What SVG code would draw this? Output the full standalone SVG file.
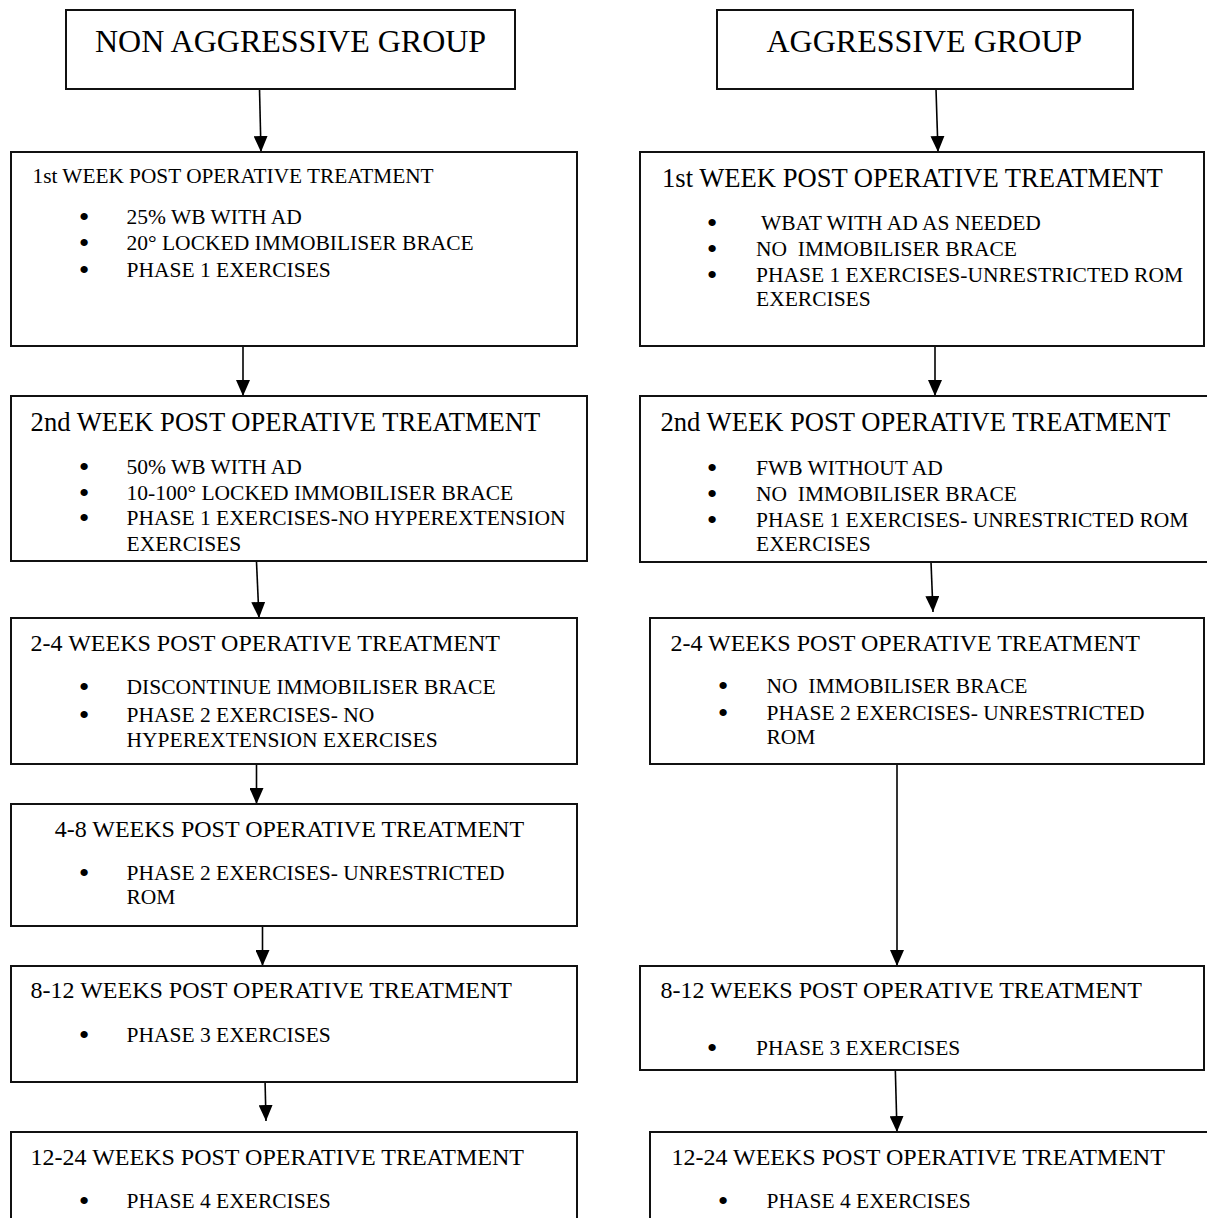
<svg xmlns="http://www.w3.org/2000/svg" width="1207" height="1218" viewBox="0 0 1207 1218">
<style>
  .box{fill:#fff;stroke:#111;stroke-width:2}
  text{font-family:"Liberation Serif","Times New Roman",serif;fill:#000;white-space:pre}
  .h{font-size:32px}
  .t21{font-size:21.3px}
  .t24{font-size:24px}
  .t27{font-size:26.6px}
  .b{font-size:21.5px}
  .dot{font-size:22px;text-anchor:middle;stroke:#000;stroke-width:2;stroke-linejoin:round}
  .conn line{stroke:#000;stroke-width:1.6;fill:none;marker-end:url(#ah)}
</style>
<defs>
  <marker id="ah" markerUnits="userSpaceOnUse" markerWidth="16" markerHeight="14" refX="16" refY="7" orient="auto">
    <path d="M0,0 L16,7 L0,14 z" fill="#000"/>
  </marker>
</defs>
<rect width="1207" height="1218" fill="#fff"/>

<g id="connectors" class="conn">
  <line x1="259.5" y1="89" x2="261" y2="152"/>
  <line x1="243" y1="346" x2="243" y2="396"/>
  <line x1="256.5" y1="562" x2="259" y2="618"/>
  <line x1="256.5" y1="764" x2="256.5" y2="804"/>
  <line x1="262.5" y1="926" x2="262.5" y2="966"/>
  <line x1="264.5" y1="1058" x2="266" y2="1121"/>
  <line x1="936" y1="89" x2="938" y2="152"/>
  <line x1="935" y1="346" x2="935" y2="396"/>
  <line x1="931" y1="562" x2="933" y2="612"/>
  <line x1="897" y1="764" x2="897" y2="966"/>
  <line x1="895" y1="1058" x2="897" y2="1132"/>
</g>

<g id="nonagg-header">
  <rect class="box" x="66" y="10" width="449" height="79"/>
  <text class="h" x="95" y="52">NON AGGRESSIVE GROUP</text>
</g>

<g id="nonagg-week1">
  <rect class="box" x="11" y="152" width="566" height="194"/>
  <text class="t21" x="32.5" y="183">1st WEEK POST OPERATIVE TREATMENT</text>
  <text class="dot" x="84" y="224">•</text><text class="b" x="126.5" y="224">25% WB WITH AD</text>
  <text class="dot" x="84" y="250">•</text><text class="b" x="126.5" y="250">20° LOCKED IMMOBILISER BRACE</text>
  <text class="dot" x="84" y="276.5">•</text><text class="b" x="126.5" y="276.5">PHASE 1 EXERCISES</text>
</g>

<g id="nonagg-week2">
  <rect class="box" x="11" y="396" width="576" height="165"/>
  <text class="t27" x="30.6" y="431">2nd WEEK POST OPERATIVE TREATMENT</text>
  <text class="dot" x="84" y="474">•</text><text class="b" x="126.5" y="474">50% WB WITH AD</text>
  <text class="dot" x="84" y="500">•</text><text class="b" x="126.5" y="500">10-100° LOCKED IMMOBILISER BRACE</text>
  <text class="dot" x="84" y="525.3">•</text><text class="b" x="126.5" y="525.3">PHASE 1 EXERCISES-NO HYPEREXTENSION</text>
  <text class="b" x="126.5" y="550.7">EXERCISES</text>
</g>

<g id="nonagg-weeks2-4">
  <rect class="box" x="11" y="618" width="566" height="146"/>
  <text class="t24" x="30.6" y="651">2-4 WEEKS POST OPERATIVE TREATMENT</text>
  <text class="dot" x="84" y="694">•</text><text class="b" x="126.5" y="694">DISCONTINUE IMMOBILISER BRACE</text>
  <text class="dot" x="84" y="721.7">•</text><text class="b" x="126.5" y="721.7">PHASE 2 EXERCISES- NO</text>
  <text class="b" x="126.5" y="746.7">HYPEREXTENSION EXERCISES</text>
</g>

<g id="nonagg-weeks4-8">
  <rect class="box" x="11" y="804" width="566" height="122"/>
  <text class="t24" x="54.7" y="837.3">4-8 WEEKS POST OPERATIVE TREATMENT</text>
  <text class="dot" x="84" y="880">•</text><text class="b" x="126.5" y="880">PHASE 2 EXERCISES- UNRESTRICTED</text>
  <text class="b" x="126.5" y="904">ROM</text>
</g>

<g id="nonagg-weeks8-12">
  <rect class="box" x="11" y="966" width="566" height="116"/>
  <text class="t24" x="30.6" y="998.3">8-12 WEEKS POST OPERATIVE TREATMENT</text>
  <text class="dot" x="84" y="1041.7">•</text><text class="b" x="126.5" y="1041.7">PHASE 3 EXERCISES</text>
</g>

<g id="nonagg-weeks12-24">
  <rect class="box" x="11" y="1132" width="566" height="120"/>
  <text class="t24" x="30.6" y="1165">12-24 WEEKS POST OPERATIVE TREATMENT</text>
  <text class="dot" x="84" y="1208.3">•</text><text class="b" x="126.5" y="1208.3">PHASE 4 EXERCISES</text>
</g>

<g id="agg-header">
  <rect class="box" x="717" y="10" width="416" height="79"/>
  <text class="h" x="766.5" y="52">AGGRESSIVE GROUP</text>
</g>

<g id="agg-week1">
  <rect class="box" x="640" y="152" width="564" height="194"/>
  <text class="t27" x="662" y="187">1st WEEK POST OPERATIVE TREATMENT</text>
  <text class="dot" x="712" y="230">•</text><text class="b" x="756" y="230"> WBAT WITH AD AS NEEDED</text>
  <text class="dot" x="712" y="256">•</text><text class="b" x="756" y="256">NO  IMMOBILISER BRACE</text>
  <text class="dot" x="712" y="281.7">•</text><text class="b" x="756" y="281.7">PHASE 1 EXERCISES-UNRESTRICTED ROM</text>
  <text class="b" x="756" y="306">EXERCISES</text>
</g>

<g id="agg-week2">
  <rect class="box" x="640" y="396" width="600" height="166"/>
  <text class="t27" x="660.5" y="431">2nd WEEK POST OPERATIVE TREATMENT</text>
  <text class="dot" x="712" y="475">•</text><text class="b" x="756" y="475">FWB WITHOUT AD</text>
  <text class="dot" x="712" y="501">•</text><text class="b" x="756" y="501">NO  IMMOBILISER BRACE</text>
  <text class="dot" x="712" y="526.7">•</text><text class="b" x="756" y="526.7">PHASE 1 EXERCISES- UNRESTRICTED ROM</text>
  <text class="b" x="756" y="551">EXERCISES</text>
</g>

<g id="agg-weeks2-4">
  <rect class="box" x="650" y="618" width="554" height="146"/>
  <text class="t24" x="670.5" y="650.7">2-4 WEEKS POST OPERATIVE TREATMENT</text>
  <text class="dot" x="723" y="693.3">•</text><text class="b" x="766.5" y="693.3">NO  IMMOBILISER BRACE</text>
  <text class="dot" x="723" y="720">•</text><text class="b" x="766.5" y="720">PHASE 2 EXERCISES- UNRESTRICTED</text>
  <text class="b" x="766.5" y="744">ROM</text>
</g>

<g id="agg-weeks8-12">
  <rect class="box" x="640" y="966" width="564" height="104"/>
  <text class="t24" x="660.5" y="998.3">8-12 WEEKS POST OPERATIVE TREATMENT</text>
  <text class="dot" x="712" y="1055">•</text><text class="b" x="756" y="1055">PHASE 3 EXERCISES</text>
</g>

<g id="agg-weeks12-24">
  <rect class="box" x="650" y="1132" width="600" height="120"/>
  <text class="t24" x="671.5" y="1165">12-24 WEEKS POST OPERATIVE TREATMENT</text>
  <text class="dot" x="723" y="1208.3">•</text><text class="b" x="766.5" y="1208.3">PHASE 4 EXERCISES</text>
</g>
</svg>
